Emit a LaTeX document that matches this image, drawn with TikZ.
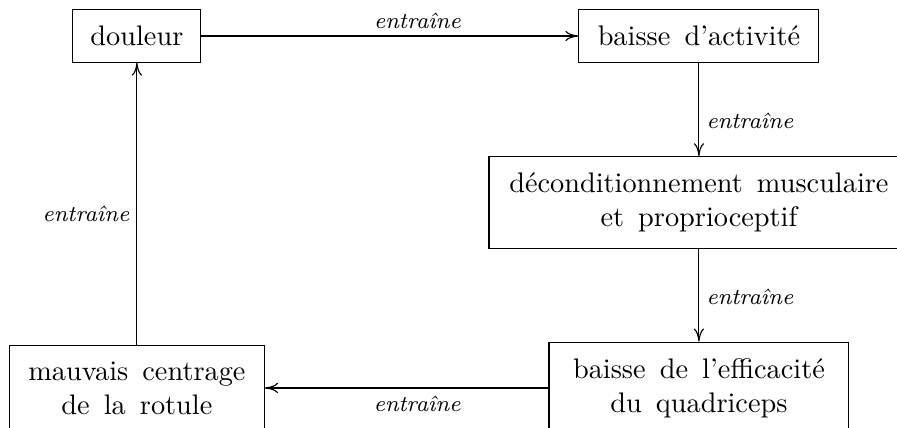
\documentclass[tikz,border=0pt]{standalone}
\usepackage{fontspec}
\usetikzlibrary{arrows.meta}

\begin{document}
\begin{tikzpicture}[%
    >={To[length=4.6pt,width=3.6pt]},
    box/.style={
        draw,
        align=center,
        inner xsep=6.2pt,
        inner ysep=5.7pt,
        % slightly wider word spacing, as in the boxes
        execute at begin node={\spaceskip=5pt\relax},
    },
    lbl/.style={font=\footnotesize\itshape, inner sep=2.5pt},
]
% fix the visible frame
\useasboundingbox (0,0) rectangle (11.14,5.315);

% draw the boxes
\node[box, text width=32.8pt] (douleur) at (1.70,4.868) {douleur};
\node[box, text width=72.4pt] (activite) at (8.68,4.868) {baisse d'activité};
\node[box, text width=136pt] (decond) at (8.68,2.80)
    {déconditionnement musculaire\\ et proprioceptif};
\node[box, text width=93.6pt] (quadri) at (8.68,0.497)
    {baisse de l'efficacité\\ du quadriceps};
\node[box, text width=77.7pt] (rotule) at (1.70,0.497)
    {mauvais centrage\\ de la rotule};

% draw the arrows and their labels
\draw[->] (douleur) -- (activite) node[lbl,pos=0.573,above=0pt] {entraîne};
\draw[->] (activite) -- (decond) node[lbl,pos=0.625,right] {entraîne};
\draw[->] (decond) -- (quadri) node[lbl,pos=0.52,right] {entraîne};
\draw[->] (quadri) -- (rotule) node[lbl,pos=0.463,below] {entraîne};
\draw[->] (rotule) -- (douleur) node[lbl,pos=0.463,left] {entraîne};
\end{tikzpicture}
\end{document}
